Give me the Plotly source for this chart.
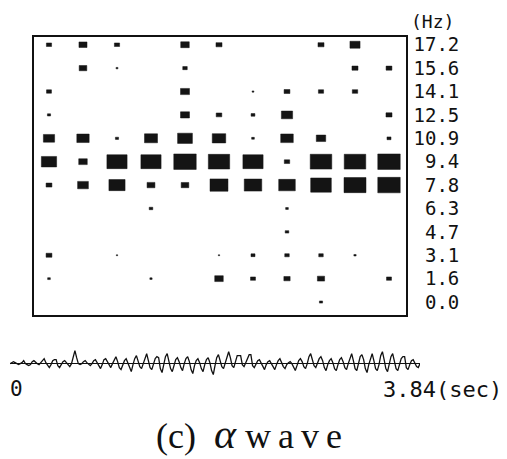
import plotly.graph_objects as go

W, H = 507, 459

# ---- data -------------------------------------------------------------
freq_labels = ["0.0", "1.6", "3.1", "4.7", "6.3", "7.8", "9.4",
               "10.9", "12.5", "14.1", "15.6", "17.2"]
time_cols = list(range(1, 12))          # 11 analysis frames over 3.84 s

# spectral intensity (0-100) per frame, one list per frequency row
row_00 = [0, 0, 0, 0, 0, 0, 0, 0, 14, 0, 0]
row_16 = [12, 0, 0, 10, 0, 38, 22, 28, 32, 0, 22]
row_31 = [26, 0, 6, 0, 0, 6, 18, 20, 20, 10, 0]
row_47 = [0, 0, 0, 0, 0, 0, 0, 16, 0, 0, 0]
row_63 = [0, 0, 0, 16, 0, 0, 0, 12, 0, 0, 0]
row_78 = [26, 48, 72, 35, 34, 80, 78, 74, 92, 98, 100]
row_94 = [68, 38, 90, 90, 100, 95, 90, 24, 96, 96, 100]
row_109 = [50, 55, 14, 58, 66, 60, 12, 56, 42, 0, 18]
row_125 = [14, 0, 0, 0, 40, 25, 17, 50, 0, 0, 27]
row_141 = [22, 0, 0, 0, 40, 0, 8, 26, 23, 24, 0]
row_156 = [0, 34, 9, 0, 20, 0, 0, 0, 0, 27, 26]
row_172 = [23, 36, 23, 0, 38, 27, 0, 0, 27, 45, 0]
intensity = [row_00, row_16, row_31, row_47, row_63, row_78, row_94,
             row_109, row_125, row_141, row_156, row_172]

# EEG waveform (alpha wave) amplitude samples over 0..3.84 s
wave = [0, 1, 2, 1, 0, -1,   0, 1, 3, 0, -1, -2,   -1, 2, 3, 1, 0, -1,
        1, 3, 5, 1, -2, -4,  -1, 3, 4, 4, -2, -4,  -1, 2, 3, 1, -2, -3,
        0, 6, 13, 6, 0, -1,  0, 2, 3, 1, -1, -2,   0, 3, 4, 1, -3, -5,
        -1, 4, 5, 2, -2, -4, 0, 4, 7, 2, -4, -6,   -1, 3, 5, 1, -4, -8,
        -1, 5, 8, 3, -3, -5, 0, 6, 10, 3, -4, -6,  -1, 5, 7, 6, -5, -9,
        -1, 7, 10, 3, -5, -8, -1, 4, 6, 2, -4, -7, 0, 5, 7, 2, -6, -10,
        -2, 3, 5, 1, -5, -8, -1, 4, 6, 1, -7, -11, -2, 6, 9, 4, -3, -5,
        1, 8, 12, 6, -2, -4, 2, 8, 8, 8, -1, -3,   1, 6, 9, 9, -2, -4,
        0, 3, 4, 1, -3, -6,  -1, 2, 3, 0, -4, -6,  -1, 3, 5, 1, -3, -5,
        -1, 1, 2, 0, -4, -7, -2, 3, 5, 2, -3, -5,  0, 7, 10, 5, -2, -4,
        0, 5, 7, 3, -4, -7,  -1, 3, 5, 1, -5, -7,  -1, 4, 6, 2, -4, -6,
        0, 6, 10, 3, -5, -7, -1, 7, 9, 4, -5, -9,  -1, 6, 10, 3, -5, -7,
        -1, 8, 12, 4, -5, -8, -1, 7, 10, 3, -5, -7, -1, 5, 7, 7, -4, -6,
        -1, 3, 4, 1, -3, -4, 0]
duration = 3.84
time_axis = [i * duration / (len(wave) - 1) for i in range(len(wave))]

# ---- build rectangles from data ---------------------------------------
xs, ys = [], []
for r, row in enumerate(intensity):
    for c, v in enumerate(row):
        if v <= 0:
            continue
        hw = v / 100 * 0.33
        hh = v / 100 * 0.33
        x0 = time_cols[c]
        xs += [x0 - hw, x0 + hw, x0 + hw, x0 - hw, x0 - hw, None]
        ys += [r - hh, r - hh, r + hh, r + hh, r - hh, None]

fig = go.Figure()
fig.add_trace(go.Scatter(x=xs, y=ys, mode="lines", fill="toself",
                         fillcolor="#141414", line=dict(color="#141414", width=0.5),
                         hoverinfo="skip", showlegend=False))
fig.add_trace(go.Scatter(x=time_axis, y=wave, mode="lines",
                         line=dict(color="#111", width=1.3),
                         xaxis="x2", yaxis="y2", showlegend=False))

def px_x(p):
    return p / W

def px_y(p):
    return 1 - p / H

mono = "DejaVu Sans Mono"
fig.update_layout(
    width=W, height=H, margin=dict(l=0, r=0, t=0, b=0),
    paper_bgcolor="white", plot_bgcolor="white",
    xaxis=dict(domain=[px_x(34), px_x(406)], range=[0.559, 11.5],
               showticklabels=False, ticks="", showgrid=False, zeroline=False,
               showline=True, mirror=True, linecolor="#111", linewidth=1.5),
    yaxis=dict(domain=[px_y(314), px_y(34)], range=[-0.552, 11.34],
               side="right", tickmode="array", tickvals=list(range(12)),
               ticktext=[("\u00a0" * (4 - len(t))) + t for t in freq_labels],
               ticks="", ticklabelstandoff=2,
               tickfont=dict(family=mono, size=19, color="#111"),
               showgrid=False, zeroline=False,
               showline=True, mirror=True, linecolor="#111", linewidth=1.5),
    xaxis2=dict(domain=[px_x(10), px_x(420)], range=[0, duration], anchor="y2",
                visible=False),
    yaxis2=dict(domain=[px_y(386), px_y(340)], range=[-23, 23], anchor="x2",
                showticklabels=False, ticks="", showgrid=False, showline=False,
                zeroline=True, zerolinecolor="#111", zerolinewidth=1.3),
    annotations=[
        dict(text="(Hz)", x=px_x(456), y=px_y(19), xref="paper", yref="paper",
             xanchor="right", yanchor="middle", showarrow=False,
             font=dict(family=mono, size=18, color="#111")),
        dict(text="0", x=px_x(8), y=px_y(389), xref="paper", yref="paper",
             xanchor="left", yanchor="middle", showarrow=False,
             font=dict(family=mono, size=21, color="#111")),
        dict(text="3.84(sec)", x=px_x(504), y=px_y(389), xref="paper", yref="paper",
             xanchor="right", yanchor="middle", showarrow=False,
             font=dict(family=mono, size=22, color="#111")),
        dict(text="(c)\u00a0\u00a0<span style='font-size:42px'><i>α</i></span>\u00a0"
                  "<span style='letter-spacing:7px'>wave</span>",
             x=px_x(252), y=px_y(434), xref="paper",
             yref="paper", xanchor="center", yanchor="middle", showarrow=False,
             font=dict(family="Liberation Serif", size=36, color="#111")),
    ],
)

fig.write_html("out.html", config={"displayModeBar": False},
               post_script="document.body.style.margin='0px';")
